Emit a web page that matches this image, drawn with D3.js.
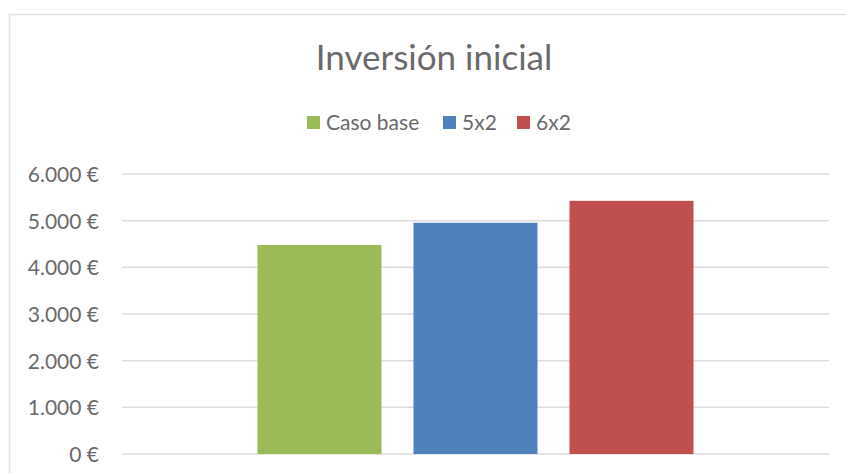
<!DOCTYPE html>
<html>
<head>
<meta charset="utf-8">
<script src="https://cdn.jsdelivr.net/npm/d3@7"></script>
<style>
  body { margin: 0; background: #fff; }
  svg text { font-family: Lato, "Open Sans", sans-serif; fill: #6a6a6a; }
</style>
</head>
<body>
<svg id="chart" width="846" height="473"></svg>
<script>
// data
var categories = ["Inversión inicial"];
var seriesNames = ["Caso base", "5x2", "6x2"];
var seriesValues = [4480, 4955, 5425];
var seriesColors = ["#9BBB59", "#4F81BD", "#C0504D"];
var yTicks = [0, 1000, 2000, 3000, 4000, 5000, 6000];

var svg = d3.select("#chart");
var plot = { left: 122, right: 829, top: 174, bottom: 454 };

// chart frame (cut off at the right and bottom)
svg.append("rect")
    .attr("x", 9.5).attr("y", 14.5)
    .attr("width", 900).attr("height", 500)
    .attr("fill", "#fff")
    .attr("stroke", "#e0e0e0")
    .attr("stroke-width", 1.5);

svg.append("text")
    .attr("x", 434).attr("y", 70)
    .attr("text-anchor", "middle")
    .style("font-size", "35px")
    .text(categories[0]);

var y = d3.scaleLinear().domain([0, 6000]).range([plot.bottom, plot.top]);
var x0 = d3.scaleBand().domain(categories).range([plot.left, plot.right]).paddingInner(0).paddingOuter(0.207);
var x1 = d3.scaleBand().domain(seriesNames).range([0, x0.bandwidth()]).padding(0.205);

var fmt = function (v) {
    return d3.format(",")(v).replace(/,/g, ".") + " €";
};

// gridlines
svg.append("g").selectAll("line").data(yTicks).enter().append("line")
    .attr("x1", plot.left).attr("x2", plot.right)
    .attr("y1", function (d) { return y(d); })
    .attr("y2", function (d) { return y(d); })
    .attr("stroke", "#dedede")
    .attr("stroke-width", 1.5);

// y axis labels
var yAxis = d3.axisLeft(y).tickValues(yTicks).tickFormat(fmt).tickSize(0).tickPadding(0);
var gy = svg.append("g").attr("transform", "translate(" + 99 + ",0)").call(yAxis);
gy.select(".domain").remove();
gy.selectAll("text").style("font-size", "21px").attr("fill", null).attr("dy", "0.35em");

// bars
var g = svg.append("g").attr("transform", "translate(" + x0(categories[0]) + ",0)");
g.selectAll("rect").data(seriesValues).enter().append("rect")
    .attr("x", function (d, i) { return x1(seriesNames[i]); })
    .attr("width", x1.bandwidth())
    .attr("y", function (d) { return y(d); })
    .attr("height", function (d) { return y(0) - y(d); })
    .attr("fill", function (d, i) { return seriesColors[i]; });

// legend
var legendX = [307, 443, 517];
var leg = svg.append("g");
seriesNames.forEach(function (name, i) {
    leg.append("rect")
        .attr("x", legendX[i]).attr("y", 116)
        .attr("width", 13).attr("height", 13)
        .attr("fill", seriesColors[i]);
    leg.append("text")
        .attr("x", legendX[i] + 19).attr("y", 130)
        .style("font-size", "21px")
        .text(name);
});
</script>
</body>
</html>
